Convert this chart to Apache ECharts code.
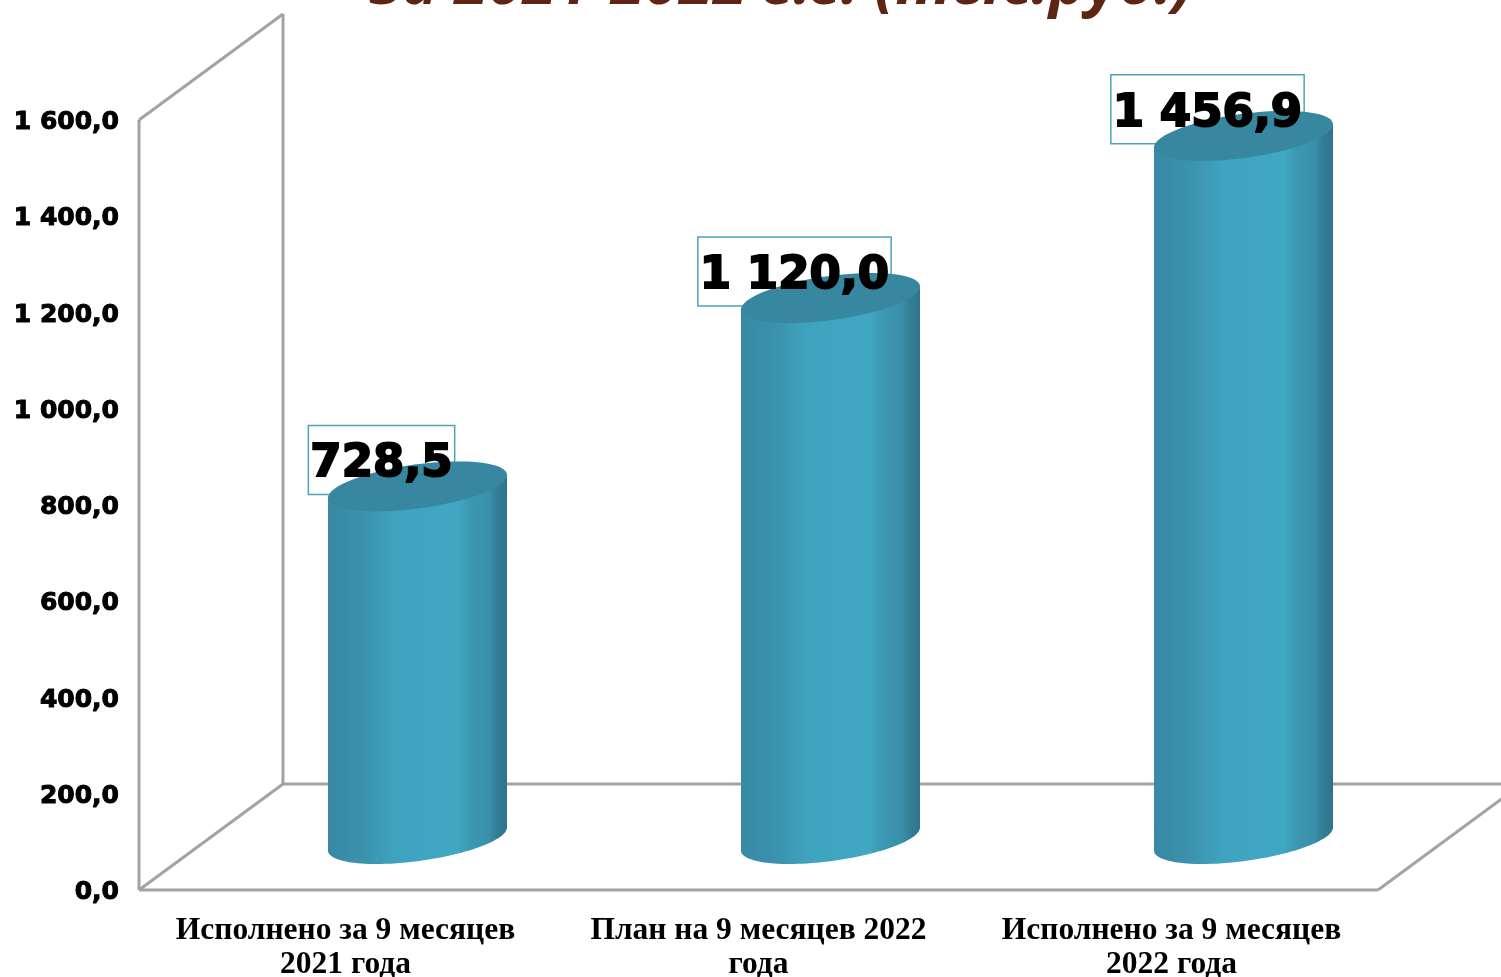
<!DOCTYPE html>
<html>
<head>
<meta charset="utf-8">
<style>
  html, body { margin: 0; padding: 0; background: #fff; }
  #chart { width: 1501px; height: 977px; }
</style>
<script src="https://cdn.jsdelivr.net/npm/echarts@6/dist/echarts.min.js"></script>
</head>
<body>
<div id="chart"></div>
<script>
var categories = [
  'Исполнено за 9 месяцев\n2021 года',
  'План на 9 месяцев 2022\nгода',
  'Исполнено за 9 месяцев\n2022 года'
]
var values = [728.5, 1120.0, 1456.9]
var valueLabels = ['728,5', '1 120,0', '1 456,9']
var yTickLabels = ['0,0', '200,0', '400,0', '600,0', '800,0', '1 000,0', '1 200,0', '1 400,0', '1 600,0']
var titleText = 'за 2021-2022 г.г. (тыс.руб.)'

var DEPTH_X = 144
var DEPTH_Y = 106
var LABEL_FONT = 'bold 45px "DejaVu Sans"'
var FRAME_STYLE = { stroke: '#a3a3a3', lineWidth: 3, fill: null }

var measureCtx = document.createElement('canvas').getContext('2d')
function textWidth (text) {
  measureCtx.font = LABEL_FONT
  return measureCtx.measureText(text).width
}

// point on a tilted ellipse
function ellipsePoint (cx, cy, a, b, tilt, t) {
  return [
    cx + a * Math.cos(t) * Math.cos(tilt) - b * Math.sin(t) * Math.sin(tilt),
    cy + a * Math.cos(t) * Math.sin(tilt) + b * Math.sin(t) * Math.cos(tilt)
  ]
}

function ellipsePoints (cx, cy, a, b, tilt, from, to) {
  var pts = []
  for (var i = 0; i <= 60; i++) {
    pts.push(ellipsePoint(cx, cy, a, b, tilt, from + (to - from) * i / 60))
  }
  return pts
}

function renderFrame (params) {
  var c = params.coordSys
  var left = c.x
  var right = c.x + c.width
  var top = c.y
  var bottom = c.y + c.height
  var lines = [
    [left, top, left, bottom],
    [left, bottom, right, bottom],
    [left, top, left + DEPTH_X, top - DEPTH_Y],
    [left + DEPTH_X, top - DEPTH_Y, left + DEPTH_X, bottom - DEPTH_Y],
    [left, bottom, left + DEPTH_X, bottom - DEPTH_Y],
    [left + DEPTH_X, bottom - DEPTH_Y, right + DEPTH_X, bottom - DEPTH_Y],
    [right, bottom, right + DEPTH_X, bottom - DEPTH_Y]
  ]
  return {
    type: 'group',
    children: lines.map(function (l) {
      return { type: 'line', shape: { x1: l[0], y1: l[1], x2: l[2], y2: l[3] }, style: FRAME_STYLE }
    })
  }
}

function renderCylinder (params, api) {
  var idx = api.value(0)
  var topPt = api.coord([idx, api.value(1)])
  var basePt = api.coord([idx, 0])
  var cx = topPt[0] + DEPTH_X / 2
  var topY = topPt[1] - DEPTH_Y / 2
  var baseY = basePt[1] - DEPTH_Y / 2 + 2
  var a = 90.3
  var b = 22
  var tilt = -7.8 * Math.PI / 180
  // t where the silhouette is at its left/right extreme
  var tEdge = Math.atan2(-b * Math.sin(tilt), a * Math.cos(tilt))
  var basePts = ellipsePoints(cx, baseY, a, b, tilt, Math.PI + tEdge, tEdge)
  var sidePts = basePts.slice()
  sidePts.push(ellipsePoint(cx, topY, a, b, tilt, tEdge))
  sidePts.push(ellipsePoint(cx, topY, a, b, tilt, Math.PI + tEdge))

  var label = valueLabels[idx]
  var boxW = textWidth(label) + 4
  var boxCx = cx - 36

  return {
    type: 'group',
    children: [
      {
        type: 'rect',
        shape: { x: boxCx - boxW / 2, y: topY - 61, width: boxW, height: 69 },
        style: { fill: '#fff', stroke: '#4ba3bd', lineWidth: 1.5 }
      },
      {
        type: 'polygon',
        shape: { points: sidePts },
        style: {
          fill: {
            type: 'linear', x: 0, y: 0, x2: 1, y2: 0,
            colorStops: [
              { offset: 0, color: '#3889a3' },
              { offset: 0.2, color: '#3b92ad' },
              { offset: 0.38, color: '#3fa3bf' },
              { offset: 0.72, color: '#40a7c2' },
              { offset: 0.8, color: '#3b97b1' },
              { offset: 0.9, color: '#3a8fa9' },
              { offset: 0.94, color: '#337f98' },
              { offset: 1, color: '#2f7489' }
            ]
          }
        }
      },
      {
        type: 'polygon',
        shape: { points: ellipsePoints(cx, topY, a, b, tilt, 0, Math.PI * 2) },
        style: { fill: '#36879f' }
      },
      {
        type: 'text',
        style: {
          x: boxCx,
          y: topY - 22,
          text: label,
          font: LABEL_FONT,
          fill: '#000',
          stroke: '#000',
          lineWidth: 2,
          align: 'center',
          verticalAlign: 'middle'
        }
      }
    ]
  }
}

var chart = echarts.init(document.getElementById('chart'))

chart.setOption({
  animation: false,
  backgroundColor: '#fff',
  title: {
    text: titleText,
    left: 776,
    top: -50,
    textAlign: 'center',
    textStyle: {
      fontFamily: 'Open Sans',
      fontWeight: 'bold',
      fontStyle: 'italic',
      fontSize: 62,
      color: '#5e2414'
    }
  },
  grid: { left: 139, top: 120, width: 1239, height: 770, outerBoundsMode: 'none' },
  xAxis: {
    type: 'category',
    data: categories,
    axisLine: { show: false },
    axisTick: { show: false },
    axisLabel: {
      interval: 0,
      margin: 24,
      fontFamily: 'Liberation Serif',
      fontWeight: 'bold',
      fontSize: 31.5,
      lineHeight: 34,
      color: '#000'
    }
  },
  yAxis: {
    type: 'value',
    min: 0,
    max: 1600,
    interval: 200,
    axisLine: { show: false },
    axisTick: { show: false },
    splitLine: { show: false },
    axisLabel: {
      margin: 20,
      formatter: function (value) {
        return '{t|' + yTickLabels[value / 200] + '}'
      },
      rich: {
        t: {
          padding: [5, 0, 0, 0],
          fontFamily: 'DejaVu Sans',
          fontWeight: 'bold',
          fontSize: 25,
          color: '#000',
          textBorderColor: '#000',
          textBorderWidth: 1
        }
      }
    }
  },
  series: [
    {
      type: 'custom',
      silent: true,
      z: 1,
      renderItem: renderFrame,
      data: [0]
    },
    {
      type: 'custom',
      z: 2,
      renderItem: renderCylinder,
      encode: { x: 0, y: 1 },
      data: values.map(function (v, i) { return [i, v] })
    }
  ]
})
</script>
</body>
</html>
